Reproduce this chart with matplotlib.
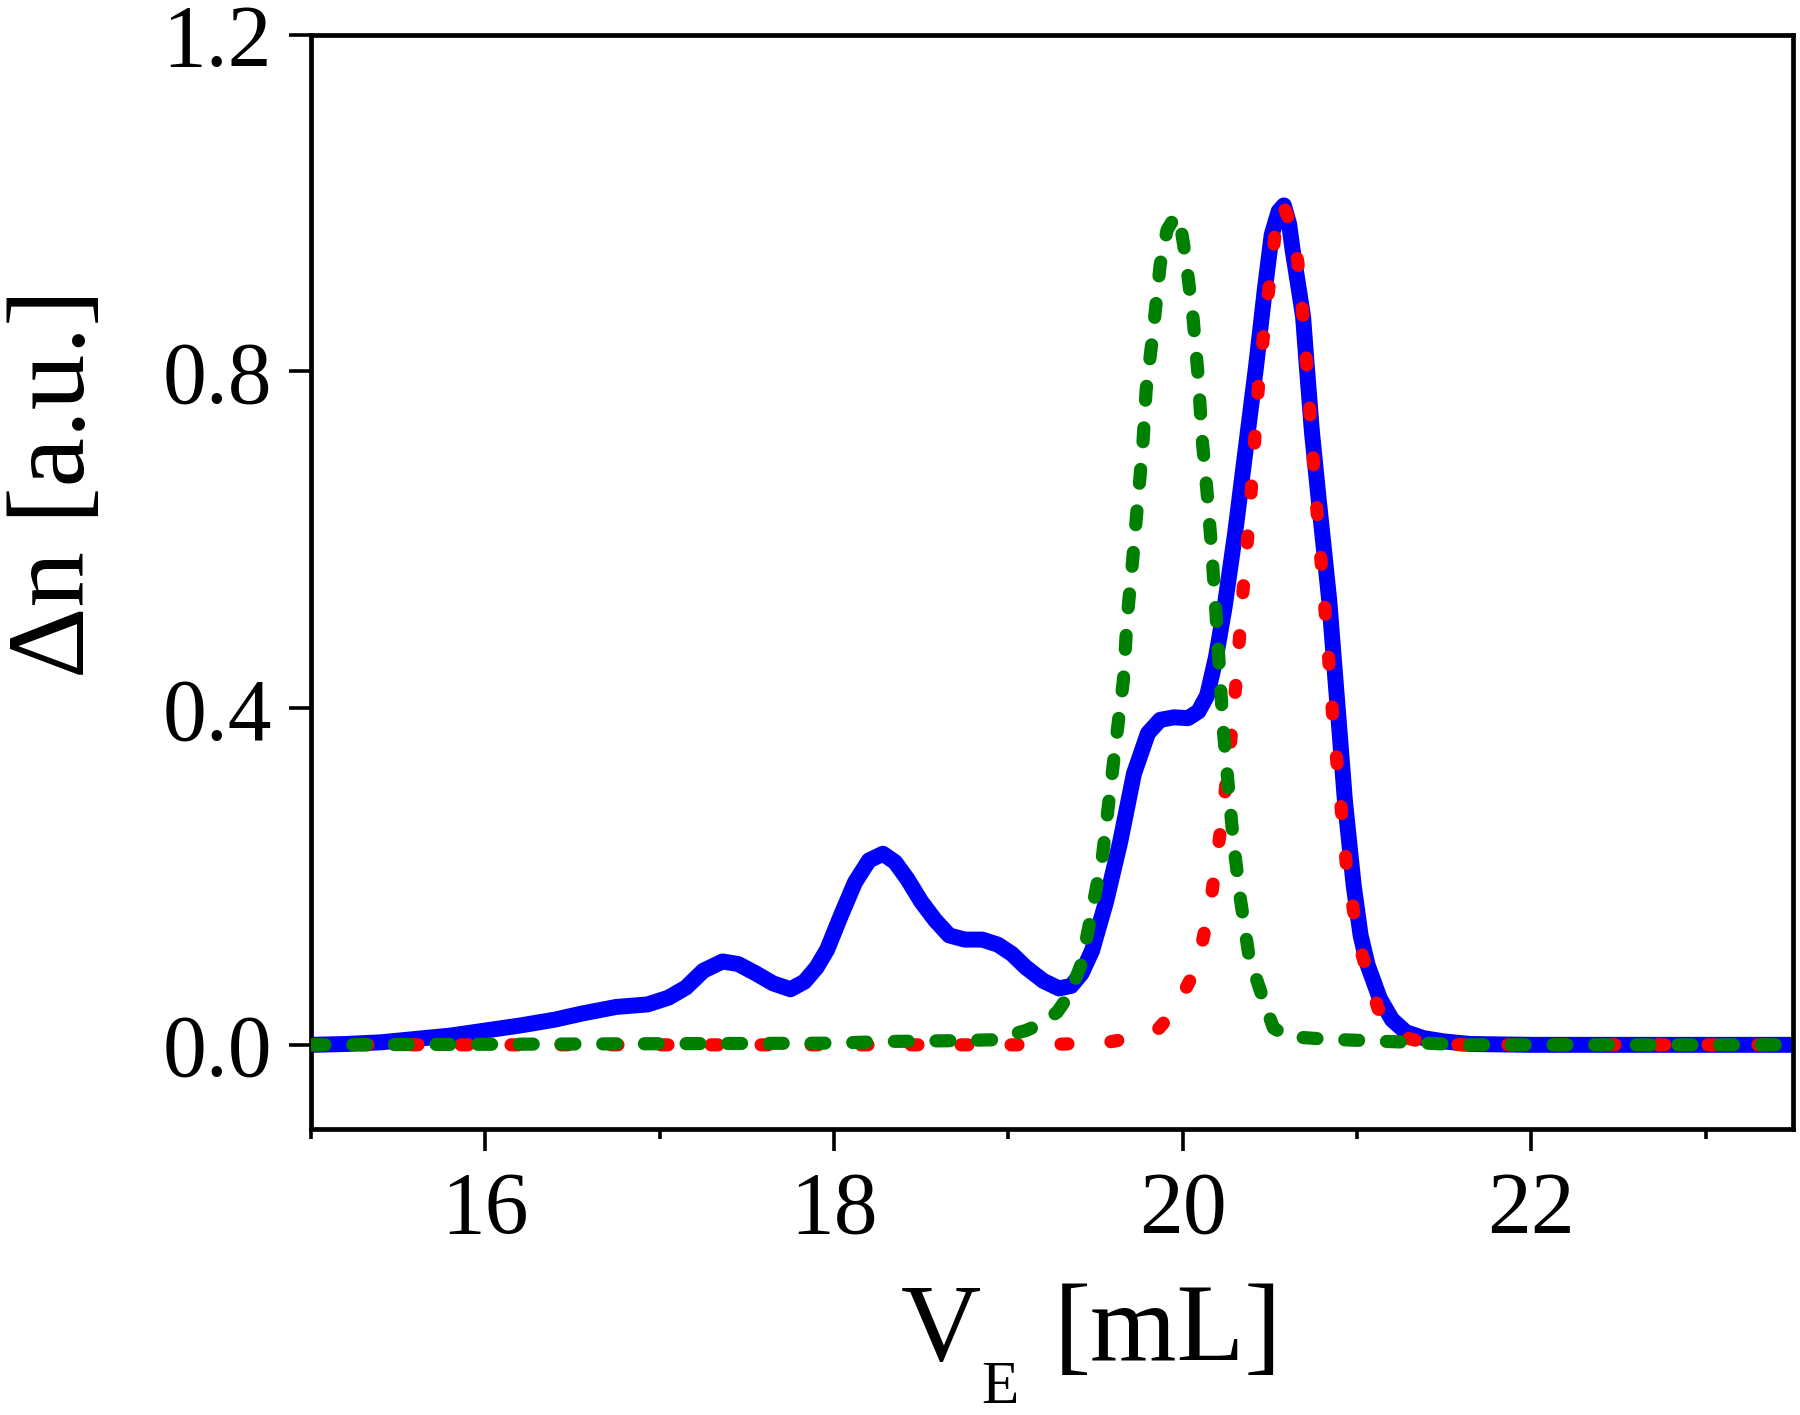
import matplotlib
matplotlib.use("Agg")
import matplotlib.pyplot as plt
from matplotlib import font_manager
from matplotlib.ticker import MultipleLocator

# elution volume [mL] / refractive index signal
blue_x = [15.0, 15.2, 15.4, 15.6, 15.8, 16.0, 16.2, 16.4, 16.55, 16.75, 16.93,
          17.05, 17.15, 17.25, 17.36, 17.45, 17.55, 17.65, 17.75, 17.83, 17.9,
          17.96, 18.04, 18.12, 18.2, 18.28, 18.35, 18.42, 18.5, 18.58, 18.66,
          18.75, 18.85, 18.94, 19.02, 19.1, 19.2, 19.29, 19.36, 19.42, 19.48,
          19.56, 19.64, 19.72, 19.8, 19.87, 19.95, 20.03, 20.09, 20.14, 20.19,
          20.24, 20.3, 20.36, 20.42, 20.47, 20.51, 20.55, 20.58, 20.61, 20.63,
          20.66, 20.69, 20.71, 20.74, 20.78, 20.81, 20.84, 20.87, 20.9, 20.93,
          20.98, 21.02, 21.06, 21.13, 21.2, 21.28, 21.38, 21.5, 21.65, 22.0, 23.5]
blue_y = [0.0, 0.001, 0.003, 0.007, 0.011, 0.017, 0.023, 0.03, 0.037, 0.045, 0.048,
          0.056, 0.068, 0.088, 0.099, 0.096, 0.085, 0.073, 0.066, 0.075, 0.092,
          0.113, 0.154, 0.193, 0.219, 0.227, 0.217, 0.197, 0.17, 0.148, 0.13,
          0.125, 0.125, 0.119, 0.108, 0.092, 0.076, 0.067, 0.07, 0.085, 0.112,
          0.17, 0.24, 0.322, 0.37, 0.386, 0.389, 0.388, 0.396, 0.415, 0.46,
          0.52, 0.607, 0.706, 0.805, 0.896, 0.962, 0.99, 0.997, 0.975, 0.944,
          0.905, 0.865, 0.81, 0.73, 0.647, 0.588, 0.528, 0.449, 0.37, 0.29,
          0.19, 0.13, 0.095, 0.055, 0.03, 0.015, 0.008, 0.004, 0.001, 0.0, 0.0]

red_x = [15.0, 19.2, 19.57, 19.75, 19.86, 19.95, 20.05, 20.11, 20.16, 20.22, 20.27,
         20.31, 20.34, 20.38, 20.41, 20.44, 20.49, 20.54, 20.57, 20.61, 20.66,
         20.7, 20.73, 20.76, 20.83, 20.86, 20.9, 20.94, 21.01, 21.12, 21.25,
         21.4, 21.6, 23.5]
red_y = [0.0, 0.0, 0.003, 0.01, 0.019, 0.04, 0.08, 0.12, 0.17, 0.26, 0.35,
         0.44, 0.526, 0.621, 0.711, 0.8, 0.891, 0.982, 1.0, 0.98, 0.93,
         0.841, 0.75, 0.66, 0.479, 0.39, 0.3, 0.21, 0.12, 0.043, 0.01,
         0.002, 0.0, 0.0]

green_x = [15.0, 18.0, 18.3, 18.71, 18.91, 19.1, 19.2, 19.28, 19.35, 19.42, 19.48,
           19.54, 19.58, 19.62, 19.66, 19.68, 19.71, 19.74, 19.77, 19.79, 19.83,
           19.87, 19.91, 19.96, 19.99, 20.02, 20.06, 20.09, 20.11, 20.14, 20.165,
           20.19, 20.21, 20.23, 20.26, 20.29, 20.33, 20.38, 20.46, 20.52, 20.6,
           20.8, 21.3, 21.6, 23.5]
green_y = [0.0, 0.002, 0.004, 0.005, 0.006, 0.017, 0.026, 0.039, 0.06, 0.097, 0.16,
           0.225, 0.296, 0.366, 0.434, 0.504, 0.57, 0.641, 0.71, 0.778, 0.847,
           0.926, 0.968, 0.985, 0.97, 0.93, 0.861, 0.79, 0.722, 0.655, 0.59,
           0.514, 0.449, 0.38, 0.31, 0.242, 0.174, 0.105, 0.055, 0.02, 0.01,
           0.007, 0.003, 0.0, 0.0]

# find a Times-like serif font that is actually installed
names = set(f.name for f in font_manager.fontManager.ttflist)
serif = 'DejaVu Serif'
for cand in ['Liberation Serif', 'Times New Roman', 'Nimbus Roman', 'TeX Gyre Termes']:
    if cand in names:
        serif = cand
        break

plt.rcParams['font.family'] = [serif, 'DejaVu Serif']
plt.rcParams['lines.scale_dashes'] = False

fig = plt.figure(figsize=(18, 14.15), dpi=100)
ax = fig.add_axes([0.1728, 0.2021, 0.8233, 0.7735])

ax.plot(blue_x, blue_y, color='#0000ff', lw=11.5, solid_capstyle='round',
        solid_joinstyle='round', zorder=2)
ax.plot(red_x, red_y, color='#ff0000', lw=9.5, dashes=(5, 31),
        dash_capstyle='round', zorder=3)
ax.plot(green_x, green_y, color='#008000', lw=9.5, dashes=(10, 20),
        dash_capstyle='round', zorder=4)

ax.set_xlim(15, 23.5)
ax.set_ylim(-0.1, 1.2)
ax.xaxis.set_major_locator(MultipleLocator(2))
ax.xaxis.set_minor_locator(MultipleLocator(1))
ax.set_yticks([0.0, 0.4, 0.8, 1.2])
ax.set_yticklabels(['0.0', '0.4', '0.8', '1.2'])

for s in ax.spines.values():
    s.set_linewidth(3.4)
ax.tick_params(axis='both', which='major', direction='out', length=16, width=2.6,
               labelsize=63)
ax.tick_params(axis='x', which='major', pad=14)
ax.tick_params(axis='y', which='major', pad=12)
ax.tick_params(axis='x', which='minor', direction='out', length=7.5, width=2.6)

# x label built from pieces so the subscript sits low like the original
fig.text(0.5006, 0.0389, 'V', fontsize=80, ha='left', va='baseline')
fig.text(0.545, 0.0085, 'E', fontsize=44, ha='left', va='baseline')
fig.text(0.5856, 0.0389, '[mL]', fontsize=80, ha='left', va='baseline')

ax.set_ylabel('\u0394n [a.u.]', fontsize=80)
ax.yaxis.set_label_coords(-0.138, 0.59)

fig.savefig('out.png', dpi=100)
